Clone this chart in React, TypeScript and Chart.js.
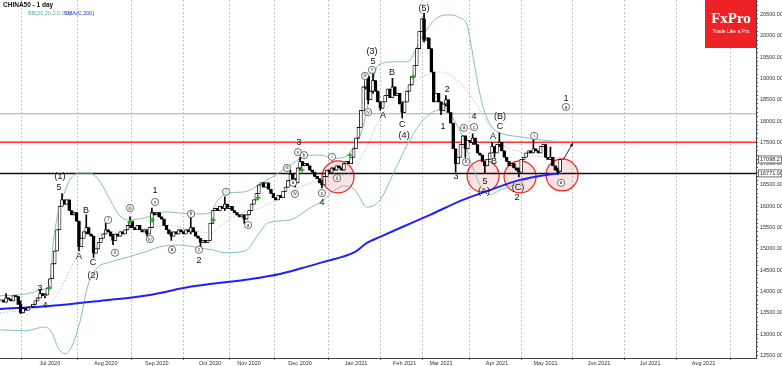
import React, { useEffect, useRef } from "react";
import { Chart, registerables } from "chart.js";

Chart.register(...registerables);

// ---------- DATA (daily bars, index 0 = first visible trading day) ----------
const closes = [
  13800, 13750, 13850, 13820, 13780, 13900, 13880, 13700, 13500, 13600,
  13560, 13620, 13650, 13700, 13780, 13850, 13950, 13900, 13920, 14080,
  14300, 14650, 14950, 15450, 16000, 16150, 16050, 16150, 15900, 15800,
  15850, 15650, 15050, 15250, 15400, 15500, 15350, 15300, 14900, 15000,
  15150, 15250, 15350, 15450, 15400, 15300, 15200, 15350, 15300, 15400,
  15350, 15450, 15550, 15650, 15500, 15450, 15550, 15450, 15400, 15450,
  15350, 15500, 15850, 15800, 15850, 15750, 15700, 15550, 15450, 15350,
  15300, 15400, 15350, 15450, 15400, 15350, 15450, 15400, 15500, 15400,
  15300, 15250, 15150, 15200, 15150, 15200, 15600, 15900, 15950, 15900,
  16000, 15950, 16050, 15950, 16000, 15900, 15850, 15800, 15750, 15800,
  15700, 15800, 15900, 16050, 16150, 16300, 16500, 16550, 16450, 16550,
  16400, 16300, 16200, 16150, 16250, 16200, 16350, 16450, 16600, 16750,
  16600, 16550, 16900, 17050, 16950, 17000, 16950, 16850, 16800, 16700,
  16650, 16550, 16500, 16700, 16850, 16800, 16900, 16850, 16950, 16900,
  16850, 17000, 17050, 17000, 17150, 17350, 17600, 17850, 18250, 18800,
  19050, 18500, 18700, 18950, 18700, 18450, 18300, 18450, 18600, 18750,
  18550, 18800, 18600, 18650, 18400, 18200, 18450, 18700, 18850, 19050,
  19300, 19700, 20100, 20400, 19900, 19950, 19700, 19150, 18450, 18650,
  18450, 18250, 18400, 18500, 18200, 17950, 17350, 17000, 17150, 17450,
  17650, 17350, 17550, 17500, 17600, 17450, 17250, 17200, 17050, 16950,
  17100, 17250, 17400, 17250, 17450, 17500, 17300, 17150, 17050, 16950,
  17000, 16900, 16850, 16800, 17100, 17150, 17250, 17300, 17250, 17350,
  17300, 17250, 17400, 17450, 17150, 17100, 17150, 16950, 16850, 16820,
  17098.27,
];
const firstOpen = 13780;

// [bar index, high, low] for bars with visible shadows
const wicks: [number, number, number][] = [
  [2, 13950, 13780], [8, 13780, 13480], [16, 14050, 13850], [18, 13950, 13850],
  [25, 16300, 16000], [32, 15650, 14950], [35, 15800, 15350], [38, 15300, 14800],
  [43, 15600, 15350], [46, 15350, 15100], [53, 15750, 15500], [60, 15450, 15300],
  [62, 15960, 15500], [70, 15400, 15200], [78, 15750, 15350], [82, 15250, 15050],
  [92, 16220, 15900], [100, 15800, 15600], [119, 16850, 16600], [121, 16650, 16450],
  [123, 17150, 16850], [132, 16600, 16430], [150, 19100, 18750], [151, 19050, 18400],
  [153, 19150, 18650], [156, 18450, 18250], [161, 19000, 18550], [165, 18450, 18070],
  [174, 20530, 19850], [181, 18450, 18150], [183, 18600, 18350], [187, 17350, 16800],
  [191, 17650, 17150], [194, 17700, 17450], [199, 17050, 16780], [202, 17500, 17250],
  [203, 17400, 17150], [205, 17720, 17400], [213, 16900, 16690], [219, 17560, 17250],
  [226, 17390, 17100], [229, 16900, 16750],
];

const monthTickIdx = [20, 43, 64, 86, 102, 123, 146, 166, 181, 204, 224, 246, 267, 289];
const monthTickLabels = [
  "Jul 2020", "Aug 2020", "Sep 2020", "Oct 2020", "Nov 2020", "Dec 2020",
  "Jan 2021", "Feb 2021", "Mar 2021", "Apr 2021", "May 2021", "Jun 2021",
  "Jul 2021", "Aug 2021",
];
const yTickValues = [
  12500, 13000, 13500, 14000, 14500, 15000, 15500, 16000, 16500,
  17000, 17500, 18000, 18500, 19000, 19500, 20000, 20500,
];

// Bollinger bands (20, 2.0): [index, value]
const bbUpper: [number, number][] = [
  [-0.5, 13900], [10, 13940], [18, 14060], [20, 14150], [21.3, 15090], [23, 15730],
  [25, 16150], [28.3, 16620], [32.4, 16780], [36.5, 16780], [40.7, 16570], [44.8, 16150],
  [48.9, 15770], [53, 15680], [59.2, 15730], [63.3, 15800], [67.4, 15870], [73.6, 15840],
  [81.8, 15820], [85.9, 15840], [89.2, 16150], [93.3, 16310], [100.3, 16340], [107.3, 16550],
  [114.7, 16800], [120.9, 17040], [125.8, 17200], [131.2, 17200], [137.4, 17130], [141.5, 17160],
  [144.8, 17370], [148.5, 17790], [151.8, 18610], [155.1, 19310], [162, 19390], [167, 19390],
  [173.6, 20020], [179.3, 20420], [184.7, 20490], [188.8, 20420], [191.7, 20250], [193.7, 19670],
  [196.2, 18850], [199.1, 18190], [202, 17860], [205.3, 17720], [213.5, 17630], [221.7, 17560],
  [230, 17510],
];
const bbMiddle: [number, number][] = [
  [-0.5, 13500], [20, 13730], [24.2, 14040], [28.3, 14510], [32.4, 14930], [37.8, 15260],
  [44.8, 15400], [53, 15440], [61.2, 15490], [67.4, 15560], [75.6, 15490], [81.8, 15400],
  [86.3, 15370], [92.1, 15630], [100.3, 15870], [106.5, 15960], [114.7, 16200], [123, 16450],
  [131.2, 16620], [139.4, 16710], [143.5, 16800], [147.6, 17090], [151.8, 17560], [155.9, 18070],
  [164.1, 18610], [172.3, 19010], [180.6, 19150], [186.7, 19010], [192.9, 18610], [199.1, 18070],
  [205.3, 17500], [213.5, 17270], [221.7, 17160], [230, 17130],
];
const bbLower: [number, number][] = [
  [-0.5, 13100], [10, 13080], [18, 13170], [20.9, 13030], [23.4, 12680], [26.3, 12540],
  [29.1, 12720], [32.4, 13290], [35.7, 14150], [39.4, 14550], [44.8, 14690], [51, 14790],
  [59.2, 14930], [65.3, 15050], [73.6, 15090], [81.8, 15020], [86.7, 14980], [92.1, 14910],
  [100.3, 14950], [105.7, 15330], [109.8, 15610], [118.8, 15680], [127.1, 15960], [132, 16120],
  [137.4, 16380], [141.5, 16480], [145.6, 16380], [150.5, 15980], [155.9, 16150], [162, 16850],
  [168.2, 17560], [174.4, 18070], [180.6, 18260], [184.7, 18140], [189.6, 17670], [193.7, 16970],
  [197, 16500], [201.1, 16270], [205.3, 16380], [211.4, 16500], [217.6, 16660], [223.8, 16740],
  [230, 16760],
];
const sma200: [number, number][] = [
  [-0.5, 13590], [20, 13660], [40.7, 13780], [61.2, 13920], [77.7, 14110], [86.7, 14180],
  [102.4, 14290], [114.7, 14410], [123.8, 14550], [132.4, 14690], [145.6, 14930], [150.5, 15140],
  [155.9, 15280], [164.1, 15490], [176.5, 15800], [190, 16150], [201.1, 16380], [213.5, 16620],
  [221.7, 16710], [230, 16780],
];

const levelRed = 17500;
const levelBlack = 16771;
const levelGrey = 18170;
const lastPrice = 17098.27;

// Elliott wave labels: [text, index, value]
const waveLabels: [string, number, number][] = [
  ["3", 16, 14060], ["4", 18, 13660], ["5", 23.8, 16450], ["(1)", 24.2, 16690],
  ["A", 32, 14810], ["B", 34.9, 15910], ["C", 37.8, 14670], ["(2)", 37.8, 14370],
  ["1", 63.3, 16360], ["2", 81.4, 14720], ["3", 122.5, 17490], ["4", 132, 16080],
  ["(3)", 152.6, 19620], ["5", 153, 19390], ["A", 157.1, 18140], ["B", 160.8, 19150],
  ["C", 165, 17910], ["(4)", 165.8, 17670], ["(5)", 174, 20630], ["1", 181.8, 17860],
  ["2", 183.5, 18730], ["3", 187.2, 16690], ["4", 194.6, 18100], ["5", 199.1, 16570],
  ["(A)", 198.7, 16340], ["A", 202.4, 17630], ["B", 202.8, 17040], ["(B)", 205.3, 18100],
  ["C", 205.3, 17860], ["(C)", 212.7, 16430], ["2", 212.3, 16200], ["1", 232.4, 18520],
];
const circledLabels: [string, number, number][] = [
  ["i", 44, 15680], ["ii", 46.8, 14910], ["iii", 53, 15960], ["iv", 61.2, 15230],
  ["v", 63.3, 16100], ["a", 70.3, 14980], ["b", 78.1, 15820], ["c", 81.4, 14980],
  ["i", 92.5, 16340], ["a", 101.6, 15560], ["iii", 117.6, 16900], ["v", 122.1, 17270],
  ["b", 124.6, 17200], ["a", 120.1, 16550], ["iv", 120.9, 16290], ["c", 132, 16310],
  ["i", 136.1, 17160], ["ii", 138.2, 16660], ["iii", 149.7, 19060], ["v", 152.6, 19200],
  ["iv", 151, 18210], ["a", 190.4, 17840], ["b", 191.3, 17040], ["c", 194.6, 17860],
  ["i", 219.3, 17650], ["a", 230.4, 16550], ["a", 232.4, 18330],
];
const greenMarks: [number, number][] = [
  [19.7, 14080], [53, 15630], [62.1, 15680], [87.2, 15680], [105.7, 16200],
  [123.8, 16850], [143.5, 17200], [169.5, 19030],
];
const redCircles: [number, number][] = [
  [138.6, 16690], [198.3, 16710], [213.5, 16690], [230.8, 16735],
];
const arrowFrom: [number, number] = [231.2, 17086];
const arrowTo: [number, number] = [235.3, 17485];

const X_MIN = -0.5;
const X_MAX = 310.6;
const Y_MIN = 12440;
const Y_MAX = 20840;

const FONT = '"Liberation Sans", Arial, sans-serif';

const overlay = {
  id: "overlay",
  beforeDraw(chart: any) {
    const { ctx, width, height } = chart;
    ctx.save();
    ctx.fillStyle = "#ffffff";
    ctx.fillRect(0, 0, width, height);
    ctx.restore();
  },
  beforeDatasetsDraw(chart: any) {
    const { ctx, scales } = chart;
    const x = scales.x, y = scales.y;
    ctx.save();
    for (const [i, v] of redCircles) {
      const px = x.getPixelForValue(i), py = y.getPixelForValue(v);
      ctx.beginPath();
      ctx.arc(px, py, 16, 0, Math.PI * 2);
      ctx.fillStyle = "rgba(255,80,80,0.16)";
      ctx.fill();
      ctx.lineWidth = 1.2;
      ctx.strokeStyle = "#ee2222";
      ctx.stroke();
    }
    ctx.restore();
  },
  afterDatasetsDraw(chart: any) {
    const { ctx, scales } = chart;
    const x = scales.x, y = scales.y;
    ctx.save();
    ctx.fillStyle = "#111";
    ctx.textAlign = "center";
    ctx.textBaseline = "middle";
    ctx.font = `9px ${FONT}`;
    for (const [t, i, v] of waveLabels) {
      ctx.fillText(t, x.getPixelForValue(i), y.getPixelForValue(v));
    }
    for (const [t, i, v] of circledLabels) {
      const px = x.getPixelForValue(i), py = y.getPixelForValue(v);
      ctx.beginPath();
      ctx.arc(px, py, 3.6, 0, Math.PI * 2);
      ctx.fillStyle = "#ffffff";
      ctx.fill();
      ctx.lineWidth = 0.7;
      ctx.strokeStyle = "#333";
      ctx.stroke();
      ctx.fillStyle = "#222";
      ctx.font = `4.5px ${FONT}`;
      ctx.fillText(t, px, py + 0.3);
    }
    const ax1 = x.getPixelForValue(arrowFrom[0]), ay1 = y.getPixelForValue(arrowFrom[1]);
    const ax2 = x.getPixelForValue(arrowTo[0]), ay2 = y.getPixelForValue(arrowTo[1]);
    ctx.strokeStyle = "#111";
    ctx.lineWidth = 0.9;
    ctx.beginPath();
    ctx.moveTo(ax1, ay1);
    ctx.lineTo(ax2, ay2);
    ctx.stroke();
    const ang = Math.atan2(ay2 - ay1, ax2 - ax1);
    ctx.fillStyle = "#111";
    ctx.beginPath();
    ctx.moveTo(ax2, ay2);
    ctx.lineTo(ax2 - 4 * Math.cos(ang - 0.45), ay2 - 4 * Math.sin(ang - 0.45));
    ctx.lineTo(ax2 - 4 * Math.cos(ang + 0.45), ay2 - 4 * Math.sin(ang + 0.45));
    ctx.closePath();
    ctx.fill();
    ctx.restore();
  },
  afterDraw(chart: any) {
    const { ctx, scales, chartArea } = chart;
    const y = scales.y;
    ctx.save();
    ctx.fillStyle = "#333";
    ctx.font = `5.5px ${FONT}`;
    ctx.textAlign = "left";
    ctx.textBaseline = "middle";
    for (const v of yTickValues) {
      ctx.fillText(v.toFixed(2), chartArea.right + 4, y.getPixelForValue(v));
    }
    const boxes: [number, string][] = [[lastPrice, lastPrice.toFixed(2)], [levelBlack, levelBlack.toFixed(2)]];
    for (const [v, t] of boxes) {
      const py = y.getPixelForValue(v);
      ctx.fillStyle = "#ffffff";
      ctx.fillRect(chartArea.right + 2, py - 3.5, 24, 7);
      ctx.strokeStyle = "#333";
      ctx.lineWidth = 0.7;
      ctx.strokeRect(chartArea.right + 2.5, py - 3.5, 23.5, 7);
      ctx.fillStyle = "#222";
      ctx.fillText(t, chartArea.right + 4, py);
    }
    ctx.fillStyle = "#111";
    ctx.font = `bold 6.5px ${FONT}`;
    ctx.fillText("CHINA50 - 1 day", 3, 5);
    ctx.font = `5.5px ${FONT}`;
    ctx.fillStyle = "#5aa8a8";
    ctx.fillText("BB(20,20,2.0,0.0)", 28, 13);
    ctx.fillStyle = "#2233ee";
    ctx.fillText("SMA(C,200)", 64, 13);
    ctx.fillStyle = "#ec2227";
    ctx.fillRect(705, 0, chartArea.right - 705, 48);
    ctx.fillStyle = "#ffffff";
    ctx.textAlign = "center";
    ctx.font = `bold 15px "Liberation Serif", serif`;
    ctx.fillText("FxPro", 731, 19);
    ctx.font = `5px ${FONT}`;
    ctx.fillText("Trade Like a Pro", 731, 32);
    ctx.restore();
  },
};

export default function App() {
  const ref = useRef<HTMLCanvasElement | null>(null);

  useEffect(() => {
    const canvas = ref.current;
    if (!canvas) return;

    const opens = closes.map((c, i) => (i === 0 ? firstOpen : closes[i - 1]));
    const wickMap = new Map<number, [number, number, number]>();
    wicks.forEach((w) => wickMap.set(w[0], w));

    const bodyData = closes.map((c, i) => ({ x: i, y: [opens[i], c] }));
    const wickData = closes.map((c, i) => {
      let lo = Math.min(opens[i], c);
      let hi = Math.max(opens[i], c);
      const w = wickMap.get(i);
      if (w) {
        hi = Math.max(hi, w[1]);
        lo = Math.min(lo, w[2]);
      }
      return { x: i, y: [lo, hi] };
    });
    const bodyFill = closes.map((c, i) => (c >= opens[i] ? "#ffffff" : "#000000"));

    const toPts = (arr: [number, number][]) => arr.map(([i, v]) => ({ x: i, y: v }));
    const hLine = (v: number) => [{ x: X_MIN, y: v }, { x: X_MAX, y: v }];

    const yMinor: number[] = [];
    for (let v = 12500; v <= 20800; v += 100) yMinor.push(v);

    const chart = new Chart(canvas, {
      type: "bar",
      data: {
        datasets: [
          {
            type: "bar",
            label: "wick",
            data: wickData as any,
            backgroundColor: "#000000",
            barThickness: 1,
            grouped: false,
            order: 2,
          } as any,
          {
            type: "bar",
            label: "body",
            data: bodyData as any,
            backgroundColor: bodyFill,
            borderColor: "#000000",
            borderWidth: 0.8,
            borderSkipped: false,
            barThickness: 3,
            minBarLength: 1,
            grouped: false,
            order: 1,
          } as any,
          {
            type: "line",
            label: "BB upper",
            data: toPts(bbUpper),
            borderColor: "#86c0c0",
            borderWidth: 1,
            pointRadius: 0,
            cubicInterpolationMode: "monotone",
            order: 5,
          } as any,
          {
            type: "line",
            label: "BB middle",
            data: toPts(bbMiddle),
            borderColor: "#7f9f9f",
            borderWidth: 0.8,
            borderDash: [1, 2],
            pointRadius: 0,
            cubicInterpolationMode: "monotone",
            order: 5,
          } as any,
          {
            type: "line",
            label: "BB lower",
            data: toPts(bbLower),
            borderColor: "#86c0c0",
            borderWidth: 1,
            pointRadius: 0,
            cubicInterpolationMode: "monotone",
            order: 5,
          } as any,
          {
            type: "line",
            label: "SMA200",
            data: toPts(sma200),
            borderColor: "#1f1fff",
            borderWidth: 2,
            pointRadius: 0,
            cubicInterpolationMode: "monotone",
            order: 4,
          } as any,
          {
            type: "line",
            label: "red level",
            data: hLine(levelRed),
            borderColor: "#ff3030",
            borderWidth: 1.5,
            pointRadius: 0,
            order: 6,
          } as any,
          {
            type: "line",
            label: "black level",
            data: hLine(levelBlack),
            borderColor: "#111111",
            borderWidth: 1.5,
            pointRadius: 0,
            order: 6,
          } as any,
          {
            type: "line",
            label: "grey level",
            data: hLine(levelGrey),
            borderColor: "#a8a8a8",
            borderWidth: 1,
            pointRadius: 0,
            order: 6,
          } as any,
          {
            type: "line",
            label: "signals",
            data: toPts(greenMarks),
            showLine: false,
            pointStyle: "cross",
            pointRadius: 2.5,
            borderColor: "#22aa22",
            borderWidth: 1.5,
            order: 0,
          } as any,
        ],
      },
      options: {
        responsive: false,
        animation: false,
        devicePixelRatio: 1,
        layout: { padding: 0, autoPadding: false },
        plugins: {
          legend: { display: false },
          tooltip: { enabled: false },
          title: { display: false },
        },
        scales: {
          x: {
            type: "linear",
            min: X_MIN,
            max: X_MAX,
            offset: false,
            afterBuildTicks: (s: any) => {
              s.ticks = monthTickIdx.map((v) => ({ value: v }));
            },
            afterFit: (s: any) => {
              s.height = 8;
            },
            ticks: {
              autoSkip: false,
              maxRotation: 0,
              padding: 0,
              color: "#333",
              font: { size: 5.5, family: FONT },
              callback: (v: any) => {
                const k = monthTickIdx.indexOf(Number(v));
                return k >= 0 ? monthTickLabels[k] : "";
              },
            },
            grid: {
              color: "#b4b4b4",
              lineWidth: 0.8,
              tickLength: 2,
              tickColor: "#444",
            },
            border: { display: true, color: "#444", width: 1, dash: [2, 2] },
          },
          y: {
            type: "linear",
            position: "right",
            min: Y_MIN,
            max: Y_MAX,
            afterBuildTicks: (s: any) => {
              s.ticks = yMinor.map((v) => ({ value: v }));
            },
            afterFit: (s: any) => {
              s.width = 26;
            },
            ticks: { display: false },
            grid: {
              drawOnChartArea: false,
              drawTicks: true,
              tickLength: 2,
              tickColor: "#555",
            },
            border: { display: true, color: "#444", width: 1 },
          },
        },
      } as any,
      plugins: [overlay],
    });

    return () => chart.destroy();
  }, []);

  return (
    <div style={{ position: "fixed", left: 0, top: 0, width: 782, height: 366, background: "#fff" }}>
      <canvas ref={ref} width={782} height={366} style={{ display: "block", width: 782, height: 366 }} />
    </div>
  );
}
